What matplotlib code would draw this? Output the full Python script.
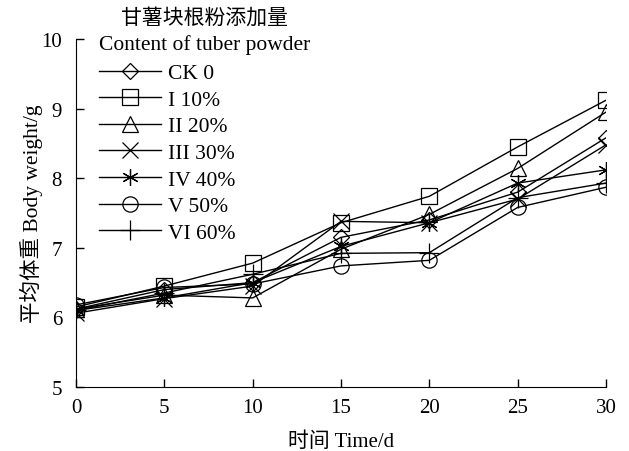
import matplotlib
matplotlib.use("Agg")
import matplotlib.pyplot as plt

plt.rcParams['font.family'] = ['Liberation Serif', 'Noto Sans CJK SC']

days = [0, 5, 10, 15, 20, 25, 30]

ck = [6.12, 6.40, 6.50, 7.15, 7.40, 7.80, 8.58]
g10 = [6.15, 6.45, 6.78, 7.36, 7.74, 8.45, 9.12]
g20 = [6.12, 6.32, 6.28, 6.98, 7.48, 8.14, 8.95]
g30 = [6.06, 6.27, 6.45, 7.38, 7.36, 7.70, 8.48]
g40 = [6.10, 6.28, 6.50, 7.02, 7.36, 7.93, 8.12]
g50 = [6.18, 6.43, 6.48, 6.74, 6.82, 7.58, 7.87]
g60 = [6.10, 6.35, 6.62, 6.92, 6.93, 7.72, 7.93]

labels = ['CK 0', 'I 10%', 'II 20%', 'III 30%', 'IV 40%', 'V 50%', 'VI 60%']
series = [ck, g10, g20, g30, g40, g50, g60]
markers = ['D', 's', '^', 'x', (6, 2, 0), 'o', '+']
sizes = [8, 12, 11, 12, 12, 11, 14]

fig = plt.figure(figsize=(6.29, 4.52), dpi=100)
ax = fig.add_axes([76 / 629, 1 - 388 / 452, 530 / 629, 348 / 452])

for vals, lab, m, ms in zip(series, labels, markers, sizes):
    ax.plot(days, vals, color='black', lw=1.0, marker=m, ms=ms,
            mec='black', mew=0.9, label=lab, fillstyle='none')

ax.set_xlim(0, 30)
ax.set_ylim(5, 10)
ax.set_xticks(days)
ax.set_yticks([5, 6, 7, 8, 9, 10])
ax.spines['top'].set_visible(False)
ax.spines['right'].set_visible(False)
ax.tick_params(direction='in', length=6, width=1, labelsize=15)
ax.tick_params(axis='x', pad=8)
ax.tick_params(axis='y', pad=10)
ax.set_xlabel('时间 Time/d', fontsize=15, labelpad=10)
ax.set_ylabel('平均体重 Body weight/g', fontsize=15.5, labelpad=-1)

fig.text(204 / 629, 1 - 19 / 452, '甘薯块根粉添加量', fontsize=15,
         ha='center', va='center')
fig.text(99 / 629, 1 - 45 / 452, 'Content of tuber powder', fontsize=15.5,
         ha='left', va='center')

ax.legend(loc='upper left', bbox_to_anchor=(0.043, 0.93), frameon=False,
          fontsize=15.5, handlelength=2.9, labelspacing=0.3, handletextpad=0.33,
          borderpad=0, borderaxespad=0)

fig.savefig('out.png', dpi=100)
